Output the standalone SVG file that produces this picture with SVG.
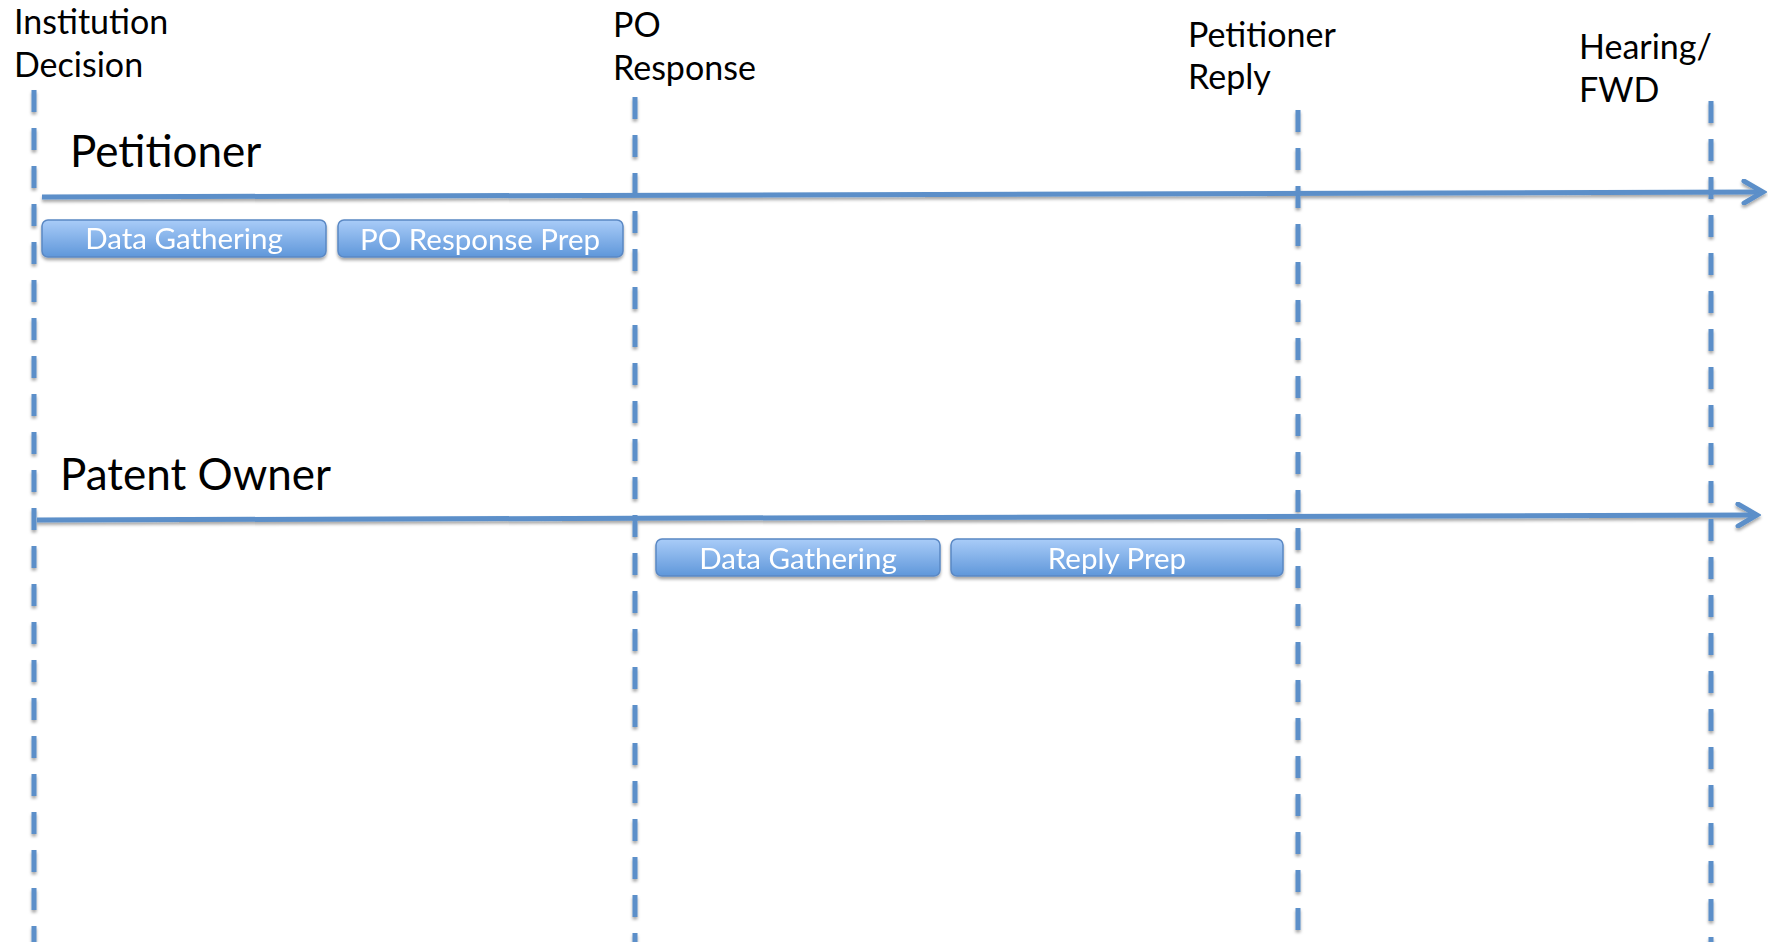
<svg xmlns="http://www.w3.org/2000/svg" width="1768" height="942" viewBox="0 0 1768 942">
<style>
.lbl{font-family:Lato,"Open Sans",sans-serif;font-size:34px;fill:#000}
.lane{font-family:Lato,"Open Sans",sans-serif;font-size:44px;fill:#000}
.btxt{font-family:Lato,"Open Sans",sans-serif;font-size:29.5px;fill:#fff;text-anchor:middle}
.box{fill:url(#g);stroke:#5A88C4;stroke-width:1.5}
.vline{stroke:#5B8FC9;stroke-width:5;stroke-dasharray:22 16;fill:none}
.hline{stroke:#5B8FC9;stroke-width:5;fill:none}
</style>
<defs>
<linearGradient id="g" x1="0" y1="0" x2="0" y2="1">
<stop offset="0" stop-color="#A9CCF8"/>
<stop offset="1" stop-color="#5F97DA"/>
</linearGradient>
<filter id="sh" x="-5%" y="-20%" width="110%" height="160%">
<feDropShadow dx="0" dy="2.5" stdDeviation="1.5" flood-color="#000" flood-opacity="0.35"/>
</filter>
<marker id="arr" markerUnits="userSpaceOnUse" viewBox="0 0 26 26" markerWidth="26" markerHeight="26" refX="22" refY="13" orient="auto">
<path d="M3,2 L22,13 L3,24" fill="none" stroke="#5B8FC9" stroke-width="5" stroke-linecap="round" stroke-linejoin="miter"/>
</marker>
</defs>
<g id="labels">
<text class="lbl" x="14" y="34">Institution</text>
<text class="lbl" x="14" y="77">Decision</text>
<text class="lbl" x="613" y="37">PO</text>
<text class="lbl" x="613" y="80">Response</text>
<text class="lbl" x="1188" y="47">Petitioner</text>
<text class="lbl" x="1188" y="89">Reply</text>
<text class="lbl" x="1579" y="59">Hearing/</text>
<text class="lbl" x="1579" y="102">FWD</text>
<text class="lane" x="70" y="167">Petitioner</text>
<text class="lane" x="60" y="490">Patent Owner</text>
</g>
<g id="connectors" filter="url(#sh)">
<line class="vline" x1="34" y1="90" x2="34" y2="942"/>
<line class="vline" x1="635" y1="97" x2="635" y2="942"/>
<line class="vline" x1="1298" y1="110" x2="1298" y2="942"/>
<line class="vline" x1="1711" y1="101" x2="1711" y2="942"/>
<line class="hline" x1="42" y1="197" x2="1763" y2="192" marker-end="url(#arr)"/>
<line class="hline" x1="37" y1="520" x2="1757" y2="515" marker-end="url(#arr)"/>
</g>
<g id="pet-data" filter="url(#sh)">
<rect class="box" x="42" y="220" width="284" height="37" rx="6"/>
<text class="btxt" x="184" y="249">Data Gathering</text>
</g>
<g id="pet-poresp" filter="url(#sh)">
<rect class="box" x="338" y="220" width="285" height="37" rx="6"/>
<text class="btxt" x="480" y="250">PO Response Prep</text>
</g>
<g id="po-data" filter="url(#sh)">
<rect class="box" x="656" y="539" width="284" height="37" rx="6"/>
<text class="btxt" x="798" y="569">Data Gathering</text>
</g>
<g id="po-reply" filter="url(#sh)">
<rect class="box" x="951" y="539" width="332" height="37" rx="6"/>
<text class="btxt" x="1117" y="569">Reply Prep</text>
</g>
</svg>
